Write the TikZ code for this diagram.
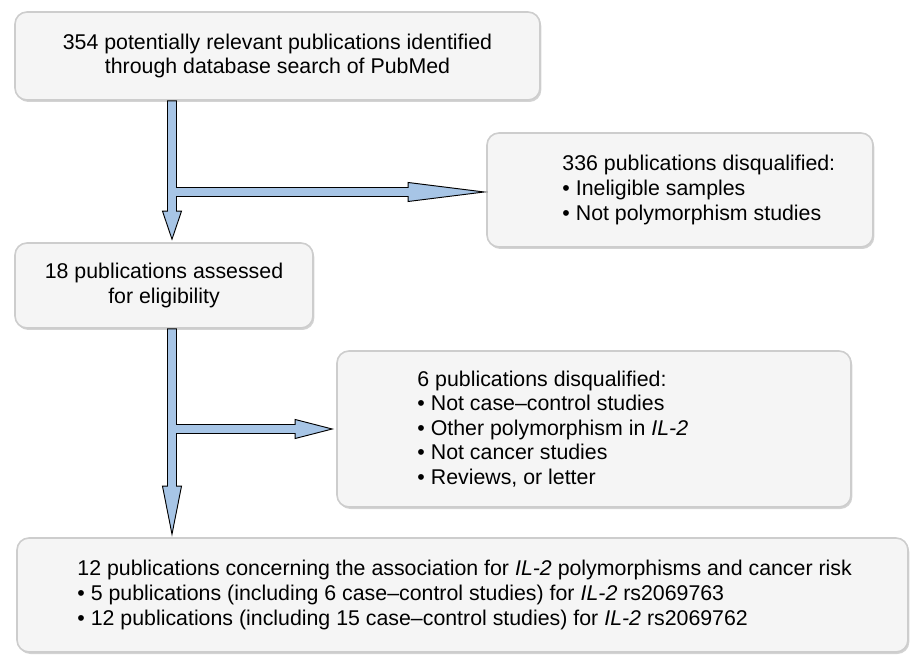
\documentclass[tikz,border=0pt]{standalone}
\usepackage{fontspec}
\setmainfont{Liberation Sans}
\usetikzlibrary{calc,shadows}
\definecolor{boxfill}{RGB}{245,245,245}
\definecolor{boxline}{RGB}{205,205,205}
\definecolor{arrowfill}{RGB}{167,197,230}
\tikzset{
  stagebox/.style={draw=boxline,fill=boxfill,line width=1.2pt,rounded corners=9pt,inner sep=0pt,
    align=center,font=\fontsize{16}{18.4}\selectfont,
    drop shadow={shadow xshift=1pt,shadow yshift=-1.5pt,opacity=0.35}},
  listtext/.style={anchor=west,align=left,inner sep=0pt,font=\fontsize{16}{18.4}\selectfont},
  flowarrow/.style={draw=black,fill=arrowfill,line width=0.7pt,line join=miter}
}
\begin{document}
\begin{tikzpicture}[x=0.75pt,y=-0.75pt]
\useasboundingbox (0,0) rectangle (910,655);
\node[stagebox,minimum width=393.75pt,minimum height=66pt] (search) at (277.5,56)
  {354 potentially relevant publications identified\\through database search of PubMed};
\node[stagebox,minimum width=289.5pt,minimum height=85.5pt] (excl1) at (680,190) {};
\node[listtext] (excl1txt) at ($(excl1.west)+(76,0)$)
  {336 publications disqualified:\\\textbullet\ Ineligible samples\\\textbullet\ Not polymorphism studies};
\node[stagebox,minimum width=223.5pt,minimum height=63.75pt] (elig) at (164,285.5)
  {18 publications assessed\\for eligibility};
\node[stagebox,minimum width=385.5pt,minimum height=117pt] (excl2) at (594,429) {};
\node[listtext] (excl2txt) at ($(excl2.west)+(81,0)$)
  {6 publications disqualified:\\\textbullet\ Not case--control studies\\\textbullet\ Other polymorphism in \textit{IL-2}\\\textbullet\ Not cancer studies\\\textbullet\ Reviews, or letter};
\node[stagebox,minimum width=668.25pt,minimum height=85.5pt] (incl) at (462.5,595) {};
\node[listtext] (incltxt) at ($(incl.west)+(61,0)$)
  {12 publications concerning the association for \textit{IL-2} polymorphisms and cancer risk\\\textbullet\ 5 publications (including 6 case--control studies) for \textit{IL-2} rs2069763\\\textbullet\ 12 publications (including 15 case--control studies) for \textit{IL-2} rs2069762};
\coordinate (split1) at (172,192);
\coordinate (start1) at (search.south -| split1);
\coordinate (tip1) at ($(elig.north -| split1)+(0,-3)$);
\coordinate (tip2) at ($(excl1.west |- split1)+(-2,0)$);
\draw[flowarrow] ($(start1)+(-4.5,0)$) -- ($(tip1)+(-4.5,-28)$) -- ($(tip1)+(-9.5,-28)$) -- (tip1)
  -- ($(tip1)+(9.5,-28)$) -- ($(tip1)+(4.5,-28)$) -- ($(split1)+(4.5,4.5)$)
  -- ($(tip2)+(-76,4.5)$) -- ($(tip2)+(-76,9.5)$) -- (tip2) -- ($(tip2)+(-76,-9.5)$)
  -- ($(tip2)+(-76,-4.5)$) -- ($(split1)+(4.5,-4.5)$) -- ($(start1)+(4.5,0)$) -- cycle;
\coordinate (split2) at (172,429);
\coordinate (start2) at (elig.south -| split2);
\coordinate (tip3) at ($(incl.north -| split2)+(0,-3)$);
\coordinate (tip4) at ($(excl2.west |- split2)+(-4,0)$);
\draw[flowarrow] ($(start2)+(-4.5,0)$) -- ($(tip3)+(-4.5,-48)$) -- ($(tip3)+(-9.5,-48)$) -- (tip3)
  -- ($(tip3)+(9.5,-48)$) -- ($(tip3)+(4.5,-48)$) -- ($(split2)+(4.5,4.5)$)
  -- ($(tip4)+(-37,4.5)$) -- ($(tip4)+(-37,9.5)$) -- (tip4) -- ($(tip4)+(-37,-9.5)$)
  -- ($(tip4)+(-37,-4.5)$) -- ($(split2)+(4.5,-4.5)$) -- ($(start2)+(4.5,0)$) -- cycle;
\end{tikzpicture}
\end{document}
